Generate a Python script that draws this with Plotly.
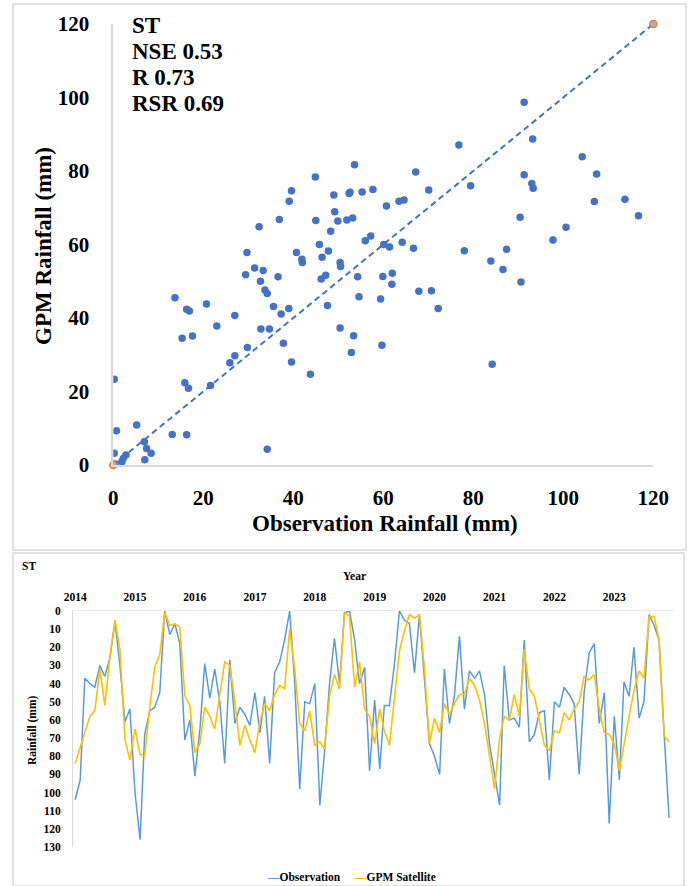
import plotly.graph_objects as go

# ---------------- data: scatter (Observation vs GPM, mm) ----------------
scatter_obs = [0.2, 0.7, 0.2, 0.4, 1.9, 2.2, 2.8, 5.2, 6.9, 7.4, 7.0, 8.4, 13.1, 16.3, 13.7, 15.3,
               17.6, 16.3, 16.9, 15.9, 16.7, 20.7, 23.0, 21.6, 25.9, 27.0, 27.0, 29.7, 29.4, 29.8,
               31.4, 32.4, 32.7, 33.3, 33.7, 34.2, 32.8, 34.7, 34.2, 35.6, 36.6, 36.9, 37.3, 37.8,
               39.0, 39.1, 39.6, 39.6, 40.7, 41.9, 42.0, 43.8, 44.9, 45.0, 45.8, 46.4, 46.2, 47.2,
               47.8, 47.6, 48.3, 49.0, 49.2, 49.9, 50.4, 50.5, 50.4, 51.9, 52.4, 52.6, 53.2, 53.4,
               52.9, 53.6, 54.3, 54.6, 55.3, 56.0, 57.2, 57.7, 59.4, 59.7, 59.9, 60.7, 60.1, 61.4,
               62.0, 61.9, 63.5, 64.6, 64.2, 66.7, 67.2, 67.9, 70.7, 70.1, 72.2, 76.8, 78.0, 79.4,
               83.9, 84.2, 86.6, 87.4, 90.4, 90.6, 91.3, 91.3, 93.2, 93.0, 93.3, 97.7, 100.6, 104.2,
               106.9, 107.4, 113.7, 116.7]
scatter_gpm = [23.3, 9.3, 3.2, 0.3, 0.9, 1.8, 2.7, 10.9, 6.3, 4.5, 1.4, 3.2, 8.3, 8.2, 45.5, 34.5,
               35.1, 42.4, 41.9, 22.4, 20.9, 43.8, 37.8, 21.6, 27.8, 29.7, 40.7, 57.8, 51.8, 32.0,
               53.6, 64.8, 50.0, 52.9, 47.6, 46.7, 37.0, 37.0, 4.3, 43.1, 51.2, 66.8, 41.1, 33.1,
               42.6, 71.8, 74.6, 28.0, 57.8, 56.0, 55.1, 24.7, 78.4, 66.5, 60.0, 56.5, 50.6, 51.6,
               58.2, 43.4, 63.6, 73.5, 68.9, 66.4, 55.1, 54.0, 37.3, 66.7, 73.9, 74.2, 67.2, 35.2,
               30.6, 81.7, 51.2, 45.8, 74.3, 61.0, 62.3, 75.0, 45.2, 32.6, 51.3, 70.5, 60.0, 59.3,
               52.2, 49.2, 71.8, 72.1, 60.6, 59.0, 79.7, 47.3, 47.4, 74.8, 42.6, 87.1, 58.3, 76.0,
               55.5, 27.4, 53.2, 58.7, 67.4, 49.8, 98.7, 79.0, 88.7, 76.6, 75.3, 61.2, 64.7, 83.9,
               71.7, 79.2, 72.3, 67.8]
line_ends = [0, 120]          # 1:1 reference line
scatter_ticks = [0, 20, 40, 60, 80, 100, 120]
stats_lines = ["ST", "NSE 0.53", "R 0.73", "RSR 0.69"]

# ---------------- data: monthly time series (mm) ----------------
years = [2014, 2015, 2016, 2017, 2018, 2019, 2020, 2021, 2022, 2023]
observation = [104, 93, 37, 40, 42, 30, 36, 26, 6, 30, 61, 54,
               100, 126, 68, 55, 53, 45, 0, 13, 7, 18, 71, 60,
               91, 65, 29, 48, 32, 50, 84, 27, 62, 53, 57, 63,
               45, 67, 47, 84, 34, 28, 16, 0, 40, 98, 50, 51,
               40, 107, 78, 40, 15, 40, 1, 0, 16, 40, 31, 88,
               49, 87, 52, 52, 30, 0, 5, 7, 34, 2, 38, 73,
               80, 90, 32, 62, 47, 14, 54, 33, 37, 33, 46, 73,
               90, 107, 30, 60, 59, 64, 16, 72, 68, 56, 55, 93,
               50, 53, 42, 46, 51, 90, 45, 23, 18, 62, 45, 117,
               58, 93, 39, 47, 20, 59, 50, 2, 8, 16, 68, 114]
gpm_satellite = [84, 75, 66, 58, 55, 32, 52, 25, 5, 21, 71, 82,
                 65, 79, 80, 53, 31, 24, 1, 8, 7, 9, 47, 52,
                 78, 73, 53, 58, 65, 47, 28, 30, 50, 74, 63, 71,
                 78, 61, 51, 55, 46, 41, 43, 10, 32, 62, 66, 55,
                 74, 72, 76, 47, 35, 43, 1, 3, 42, 28, 54, 58,
                 73, 54, 66, 74, 47, 22, 11, 2, 4, 2, 32, 73,
                 59, 67, 51, 57, 51, 46, 46, 37, 41, 49, 62, 80,
                 98, 70, 58, 60, 46, 58, 21, 43, 47, 60, 74, 77,
                 66, 67, 56, 60, 54, 50, 36, 38, 35, 54, 67, 68,
                 73, 88, 73, 58, 44, 33, 37, 3, 3, 16, 69, 72]
months = [f"{y}-{m:02d}-01" for y in years for m in range(1, 13)]
rain_ticks = [0, 10, 20, 30, 40, 50, 60, 70, 80, 90, 100, 110, 120, 130]

# ---------------- helpers ----------------
W, H = 690, 886
SERIF = "Liberation Serif"


def px(x):
    return x / W


def py(y):
    return 1 - y / H


OBS_C = "#5B9BD5"
GPM_C = "#FFC000"
DOT_C = "#4472C4"

fig = go.Figure()

# top: scatter
fig.add_trace(go.Scatter(x=scatter_obs, y=scatter_gpm, mode="markers",
                         marker=dict(color=DOT_C, size=7.5),
                         xaxis="x", yaxis="y", showlegend=False, name="Points"))
fig.add_trace(go.Scatter(x=line_ends, y=line_ends, mode="lines+markers",
                         line=dict(color=DOT_C, width=2, dash="6px,4px"),
                         marker=dict(size=7, color="#9FB3D9", line=dict(color="#ED7D31", width=1.5)),
                         cliponaxis=False, xaxis="x", yaxis="y", showlegend=False, name="1:1"))

# bottom: time series
fig.add_trace(go.Scatter(x=months, y=observation, mode="lines", name="Observation",
                         line=dict(color=OBS_C, width=1.5), xaxis="x2", yaxis="y2",
                         showlegend=False))
fig.add_trace(go.Scatter(x=months, y=gpm_satellite, mode="lines", name="GPM Satellite",
                         line=dict(color=GPM_C, width=1.6), xaxis="x2", yaxis="y2",
                         showlegend=False))

big_tick = dict(family=SERIF, size=21, color="black", weight="bold")
small = dict(family=SERIF, size=11.5, color="black", weight="bold")

fig.update_layout(
    template="none",
    width=W, height=H, autosize=False,
    margin=dict(l=0, r=0, t=0, b=0, pad=0),
    paper_bgcolor="white", plot_bgcolor="white",
    xaxis=dict(domain=[px(113.3), px(653.3)], range=[0, 120], tickvals=scatter_ticks,
               showline=True, linecolor="#d9d9d9", linewidth=1.5, showgrid=False,
               zeroline=False, ticks="", tickfont=big_tick, ticklabelstandoff=13,
               anchor="y", fixedrange=True, automargin=False),
    yaxis=dict(domain=[py(465), py(24)], range=[0, 120], tickvals=scatter_ticks,
               showline=True, linecolor="#d9d9d9", linewidth=1.5, showgrid=False,
               zeroline=False, ticks="", tickfont=big_tick, ticklabelstandoff=18,
               anchor="x", fixedrange=True, automargin=False),
    xaxis2=dict(domain=[px(73), px(674)], type="date",
                range=["2013-12-19", "2023-12-31"],
                tickvals=[f"{y}-01-01" for y in years], ticktext=[str(y) for y in years],
                side="top", anchor="y2", showline=True, linecolor="#ebebeb", linewidth=1,
                showgrid=False, zeroline=False, ticks="", tickfont=small,
                ticklabelstandoff=4, fixedrange=True, automargin=False),
    yaxis2=dict(domain=[py(847), py(611)], range=[130, 0], tickvals=rain_ticks,
                showline=True, linecolor="#d9d9d9", linewidth=1, showgrid=False,
                zeroline=False, ticks="", tickfont=small, ticklabelstandoff=9,
                anchor="x2", fixedrange=True, automargin=False),
)

shapes = [
    dict(type="rect", xref="paper", yref="paper", x0=px(13), x1=px(686), y0=py(550), y1=py(4),
         line=dict(color="#d9d9d9", width=1.5), fillcolor="rgba(0,0,0,0)", layer="below"),
    dict(type="rect", xref="paper", yref="paper", x0=px(13), x1=px(684), y0=0, y1=py(553),
         line=dict(color="#d9d9d9", width=1.5), fillcolor="rgba(0,0,0,0)", layer="below"),
]

ann = []
stat_font = dict(family=SERIF, size=23, color="black", weight="bold")
for k, t in enumerate(stats_lines):
    ann.append(dict(text=t, x=px(130), y=py(25.5 + 26 * k), xref="paper", yref="paper",
                    xanchor="left", yanchor="middle", showarrow=False, font=stat_font))
title_font = dict(family=SERIF, size=23, color="black", weight="bold")
ann.append(dict(text="Observation Rainfall (mm)", x=px(385), y=py(523), xref="paper",
                yref="paper", xanchor="center", yanchor="middle", showarrow=False,
                font=title_font))
ann.append(dict(text="GPM Rainfall (mm)", x=px(44), y=py(246), xref="paper", yref="paper",
                xanchor="center", yanchor="middle", showarrow=False, textangle=-90,
                font=title_font))
ann.append(dict(text="ST", x=px(20), y=py(565.5), xref="paper", yref="paper",
                xanchor="left", yanchor="middle", showarrow=False, font=small))
ann.append(dict(text="Year", x=px(354), y=py(576), xref="paper", yref="paper",
                xanchor="center", yanchor="middle", showarrow=False, font=small))
ann.append(dict(text="Rainfall (mm)", x=px(32), y=py(731), xref="paper", yref="paper",
                xanchor="center", yanchor="middle", showarrow=False, textangle=-90,
                font=small))
ann.append(dict(text=f"<span style='color:{OBS_C}'>—</span>Observation", x=px(265),
                y=py(877), xref="paper", yref="paper", xanchor="left", yanchor="middle",
                showarrow=False, font=small))
ann.append(dict(text=f"<span style='color:{GPM_C}'>—</span>GPM Satellite", x=px(352),
                y=py(877), xref="paper", yref="paper", xanchor="left", yanchor="middle",
                showarrow=False, font=small))

fig.update_layout(shapes=shapes, annotations=ann)
fig.write_html(
    "out.html",
    config={"displayModeBar": False},
    post_script="document.body.style.margin='0';document.body.style.padding='0';"
                "document.documentElement.style.overflow='hidden';",
)
